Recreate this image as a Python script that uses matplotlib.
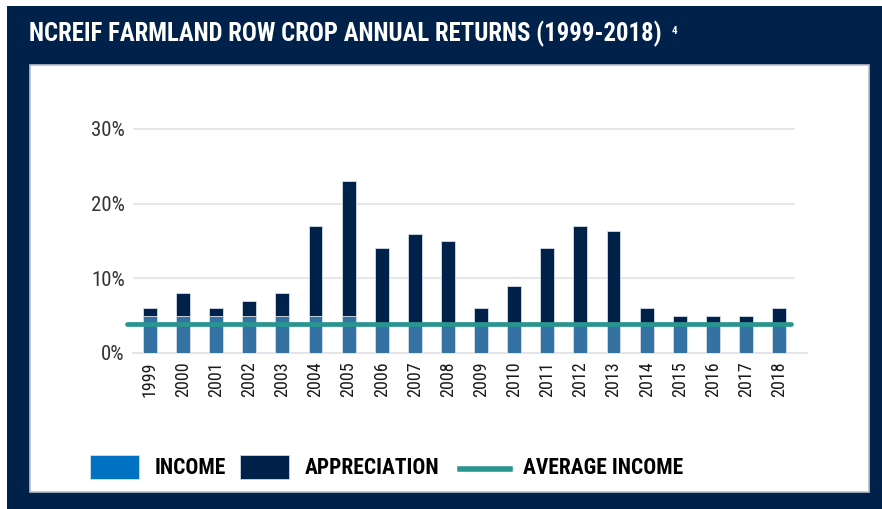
import matplotlib
matplotlib.use("Agg")
import matplotlib.pyplot as plt
from matplotlib.patches import Rectangle
from matplotlib.lines import Line2D
from matplotlib.ticker import FuncFormatter
import numpy as np

years = [str(y) for y in range(1999, 2019)]
income = [5, 5, 5, 5, 5, 5, 5, 4, 4, 4, 4, 4, 4, 4, 4, 4, 4, 4, 4, 4]
total = [6, 8, 6, 7, 8, 17, 23, 14, 16, 15, 6, 9, 14, 17, 16.3, 6, 5, 5, 5, 6]
appreciation = [t - i for t, i in zip(total, income)]
avg_income = 3.85
yticks = [0, 10, 20, 30]

NAVY = "#00214a"
BAR_INC = "#3472a3"
LEG_INC = "#0072c1"
TEAL = "#2a958f"
HEAD = ["Roboto Condensed", "DejaVu Sans"]
TICK = ["Roboto Condensed", "DejaVu Sans"]

W, H = 882, 509
fig = plt.figure(figsize=(W / 100, H / 100), dpi=100, facecolor="white")


def fx(px):
    return px / W


def fy(py):
    return 1 - py / H


# frame and white panel
fig.patches.append(Rectangle((fx(7), 0), 1, fy(6), transform=fig.transFigure,
                             facecolor=NAVY, edgecolor="none", zorder=-3))
fig.patches.append(Rectangle((fx(30), fy(492)), fx(869 - 30), (492 - 65) / H,
                             transform=fig.transFigure, facecolor="white",
                             edgecolor="#b8c0cc", linewidth=1.2, zorder=-2))

fig.text(fx(29), fy(33.5), "NCREIF FARMLAND ROW CROP ANNUAL RETURNS (1999-2018)",
         color="white", fontsize=17.8, fontweight="bold", family=HEAD,
         va="center", ha="left")
fig.text(fx(672), fy(31), "4", color="white", fontsize=8, fontweight="bold",
         family=HEAD, va="center", ha="left")

# axes: 0% at y=353, 30% at y=129
px_per_unit = (353 - 129) / 30
ytop = 30.6
ax = fig.add_axes([fx(133), fy(353), fx(795 - 133), ytop * px_per_unit / H])
ax.set_facecolor("none")
x = np.arange(len(years))
ax.set_xlim(-0.51, 19.48)
ax.set_ylim(0, ytop)

ax.bar(x, income, width=0.42, color=BAR_INC, edgecolor="#d5dde6", linewidth=0.6, zorder=3)
ax.bar(x, appreciation, bottom=income, width=0.42, color=NAVY, edgecolor="#d5dde6",
       linewidth=0.6, zorder=3)
ax.plot([-0.70, 19.36], [avg_income, avg_income], color=TEAL, lw=3.4,
        solid_capstyle="round", zorder=4, clip_on=False)

ax.set_yticks(yticks)
ax.yaxis.set_major_formatter(FuncFormatter(lambda v, p: f"{int(v)}%"))
ax.grid(axis="y", color="#e2e4e6", linewidth=1.3, zorder=0)
ax.plot([-0.51, 19.85], [0, 0], color="#e2e4e6", lw=1.3, clip_on=False, zorder=1)
ax.set_xticks(x)
ax.set_xticklabels(years, rotation=90, family=TICK, fontsize=13, color="#1a1a1a")
for lab in ax.get_yticklabels():
    lab.set_family(TICK)
    lab.set_fontsize(15)
    lab.set_color("#333333")
ax.tick_params(axis="both", length=0)
ax.tick_params(axis="y", pad=6)
ax.tick_params(axis="x", pad=6)
for s in ax.spines.values():
    s.set_visible(False)

# legend
leg_top, leg_bot = 455, 479
leg_fs = 15.5
fig.patches.append(Rectangle((fx(90), fy(leg_bot)), fx(49), (leg_bot - leg_top) / H,
                             transform=fig.transFigure, facecolor=LEG_INC,
                             edgecolor="#cfe0f0", linewidth=0.6, zorder=2))
fig.text(fx(155), fy(468), "INCOME", fontsize=leg_fs, fontweight="bold", family=HEAD,
         color="black", va="center", ha="left")
fig.patches.append(Rectangle((fx(240), fy(leg_bot)), fx(49), (leg_bot - leg_top) / H,
                             transform=fig.transFigure, facecolor=NAVY,
                             edgecolor="#cfd6de", linewidth=0.6, zorder=2))
fig.text(fx(305), fy(468), "APPRECIATION", fontsize=leg_fs, fontweight="bold", family=HEAD,
         color="black", va="center", ha="left")
fig.lines.append(Line2D([fx(460), fx(510)], [fy(469), fy(469)], transform=fig.transFigure,
                        color=TEAL, lw=4, zorder=2))
fig.text(fx(523), fy(468), "AVERAGE INCOME", fontsize=leg_fs, fontweight="bold", family=HEAD,
         color="black", va="center", ha="left")

fig.savefig("out.png", dpi=100, facecolor="white")
